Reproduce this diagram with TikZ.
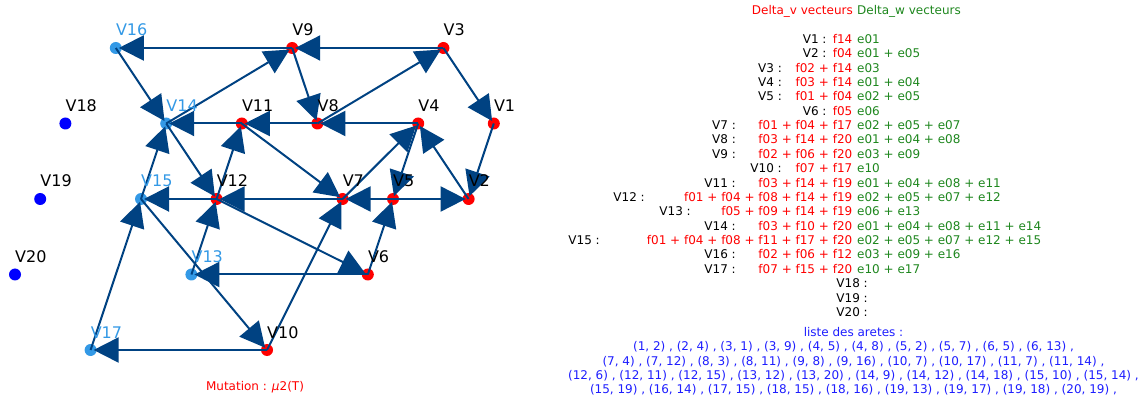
\documentclass[tikz,border=0pt]{standalone}
\usepackage{fontspec}
\setmainfont{DejaVu Sans}
\usetikzlibrary{arrows.meta}
\definecolor{vred}{RGB}{255,0,0}
\definecolor{vlblue}{RGB}{51,153,230}
\definecolor{vblue}{RGB}{0,0,255}
\definecolor{edgecol}{RGB}{0,66,130}
\definecolor{wgreen}{RGB}{30,135,30}
\definecolor{listblue}{RGB}{30,30,255}
\tikzset{
  dot/.style={circle, inner sep=0pt, minimum size=12pt, draw=none},
  vlbl/.style={inner sep=0pt, anchor=base west, font=\fontsize{16}{19}\selectfont},
  arc/.style={draw=edgecol, line width=2pt, -{Triangle[length=25pt,width=25pt]}, shorten >=3pt},
  txt/.style={inner sep=0pt, font=\fontsize{12}{14}\selectfont},
}
\begin{document}
\begin{tikzpicture}[x=1pt,y=-1pt]
\useasboundingbox[fill=white] (0,0) rectangle (1141,398);
% vertices
\foreach \n/\x/\y/\c in {
 1/493.8/123.5/vred, 2/468.6/199/vred, 3/443.4/48/vred,
 4/418.2/123.5/vred, 5/393/199/vred, 6/367.8/274.5/vred,
 7/342.6/199/vred, 8/317.4/123.5/vred, 9/292.2/48/vred,
 10/267/350/vred, 11/241.8/123.5/vred, 12/216.6/199/vred,
 13/191.4/274.5/vlblue, 14/166.2/123.5/vlblue, 15/141/199/vlblue,
 16/115.8/48/vlblue, 17/90.6/350/vlblue, 18/65.4/123.5/vblue,
 19/40.2/199/vblue, 20/15/274.5/vblue}{
  \node[dot, fill=\c] (v\n) at (\x,\y) {};
}
% arcs
\foreach \a/\b in {1/2, 2/4, 3/1, 3/9, 4/5, 4/8, 5/2, 5/7, 6/5, 6/13,
 7/4, 7/12, 8/3, 8/11, 9/8, 9/16, 10/7, 10/17, 11/7, 11/14,
 12/6, 12/11, 12/15, 13/12, 14/9, 14/12, 15/10, 15/14, 16/14, 17/15}{
  \draw[arc] (v\a.center) -- (v\b.center);
}
% vertex labels
\foreach \n/\t in {1/black, 2/black, 3/black, 4/black, 5/black, 6/black,
 7/black, 8/black, 9/black, 10/black, 11/black, 12/black, 13/vlblue,
 14/vlblue, 15/vlblue, 16/vlblue, 17/vlblue, 18/black, 19/black, 20/black}{
  \node[vlbl, text=\t] (l\n) at ([yshift=12pt]v\n.center) {V\n};
}
\node[txt, text=vred, anchor=base] (mut) at (255,390.4) {Mutation : {\itshape μ}2(T)};
% table
\node[txt, text=vred, anchor=base east] (hv) at (853,14.4) {Delta\_v vecteurs};
\node[txt, text=wgreen, anchor=base west] (hw) at (857,14.4) {Delta\_w vecteurs};
\foreach \i/\lx/\r/\g in {
 1/826.7/f14/e01,
 2/826.7/f04/e01 + e05,
 3/782/f02 + f14/e03,
 4/782/f03 + f14/e01 + e04,
 5/782/f01 + f04/e02 + e05,
 6/826.7/f05/e06,
 7/736/f01 + f04 + f17/e02 + e05 + e07,
 8/736/f03 + f14 + f20/e01 + e04 + e08,
 9/736/f02 + f06 + f20/e03 + e09,
 10/782/f07 + f17/e10,
 11/736/f03 + f14 + f19/e01 + e04 + e08 + e11,
 12/645/f01 + f04 + f08 + f14 + f19/e02 + e05 + e07 + e12,
 13/691/f05 + f09 + f14 + f19/e06 + e13,
 14/736/f03 + f10 + f20/e01 + e04 + e08 + e11 + e14,
 15/600/f01 + f04 + f08 + f11 + f17 + f20/e02 + e05 + e07 + e12 + e15,
 16/736/f02 + f06 + f12/e03 + e09 + e16,
 17/736/f07 + f15 + f20/e10 + e17,
 18/868//,
 19/868//,
 20/868//}{
  \node[txt, anchor=base east] (k\i) at (\lx,{43.4+14.37*(\i-1)}) {V\i\ :};
  \node[txt, text=vred, anchor=base east] (r\i) at (852.5,{43.4+14.37*(\i-1)}) {\r};
  \node[txt, text=wgreen, anchor=base west] (g\i) at (857,{43.4+14.37*(\i-1)}) {\g};
}
\node[txt, text=listblue, anchor=base] (lt) at (853.5,336.4) {liste des aretes :};
\node[txt, text=listblue, anchor=base] (la) at (853.5,350.7) {(1, 2) , (2, 4) , (3, 1) , (3, 9) , (4, 5) , (4, 8) , (5, 2) , (5, 7) , (6, 5) , (6, 13) ,};
\node[txt, text=listblue, anchor=base] (lb) at (853.5,365.0) {(7, 4) , (7, 12) , (8, 3) , (8, 11) , (9, 8) , (9, 16) , (10, 7) , (10, 17) , (11, 7) , (11, 14) ,};
\node[txt, text=listblue, anchor=base] (lc) at (853.5,379.3) {(12, 6) , (12, 11) , (12, 15) , (13, 12) , (13, 20) , (14, 9) , (14, 12) , (14, 18) , (15, 10) , (15, 14) ,};
\node[txt, text=listblue, anchor=base] (ld) at (853.5,393.6) {(15, 19) , (16, 14) , (17, 15) , (18, 15) , (18, 16) , (19, 13) , (19, 17) , (19, 18) , (20, 19) ,};
\end{tikzpicture}
\end{document}
